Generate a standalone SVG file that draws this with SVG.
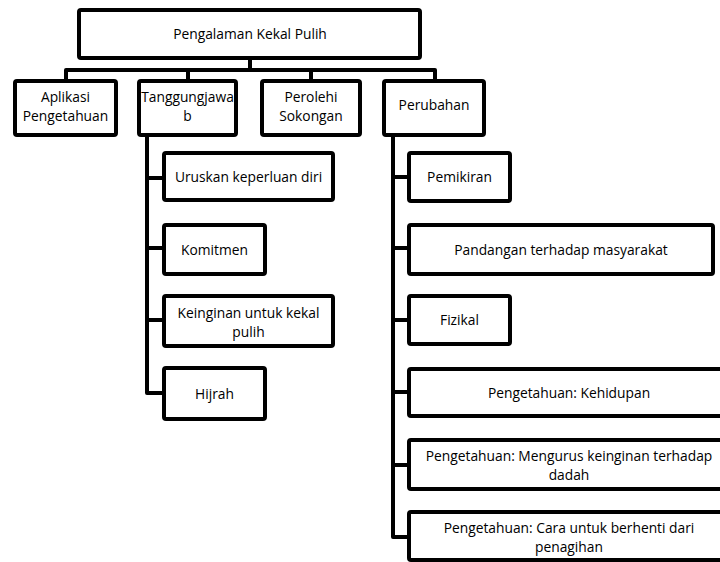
<svg xmlns="http://www.w3.org/2000/svg" width="720" height="562" viewBox="0 0 720 562">
<style>
.box{fill:#fff;stroke:#000;stroke-width:4;}
.ln{fill:none;stroke:#000;stroke-width:4;stroke-linejoin:round;}
text{font-family:"Open Sans","Noto Sans",sans-serif;font-size:13.8px;fill:#000;text-anchor:middle;}
</style>
<rect width="720" height="562" fill="#fff"/>
<g id="connectors">
<path class="ln" d="M250,60 V70 M66,79 V70 H435 V79 M188,70 V79 M311,70 V79"/>
<path class="ln" d="M147,137 V393 H162 M147,178 H162 M147,248 H162 M147,320 H162"/>
<path class="ln" d="M393,137 V537 H407 M393,177 H407 M393,248 H407 M393,320 H407 M393,392 H407 M393,465 H407"/>
</g>
<g id="n-root"><rect class="box" x="79" y="10" width="341" height="48" rx="2"/><text x="250" y="39">Pengalaman Kekal Pulih</text></g>
<g id="n-aplikasi"><rect class="box" x="15" y="81" width="101" height="54" rx="2"/><text x="65.5" y="102">Aplikasi</text><text x="65.5" y="121">Pengetahuan</text></g>
<g id="n-tanggungjawab"><rect class="box" x="139" y="81" width="97" height="54" rx="2"/><text x="187.5" y="102">Tanggungjawa</text><text x="187.5" y="121">b</text></g>
<g id="n-perolehi"><rect class="box" x="262" y="81" width="98" height="54" rx="2"/><text x="311" y="102">Perolehi</text><text x="311" y="121">Sokongan</text></g>
<g id="n-perubahan"><rect class="box" x="384" y="81" width="100" height="54" rx="2"/><text x="434" y="110">Perubahan</text></g>
<g id="n-uruskan"><rect class="box" x="164" y="153" width="169" height="47" rx="2"/><text x="248.5" y="181.5">Uruskan keperluan diri</text></g>
<g id="n-komitmen"><rect class="box" x="164" y="225" width="101" height="49" rx="2"/><text x="214.5" y="254.5">Komitmen</text></g>
<g id="n-keinginan"><rect class="box" x="164" y="296" width="169" height="50" rx="2"/><text x="248.5" y="318">Keinginan untuk kekal</text><text x="248.5" y="337">pulih</text></g>
<g id="n-hijrah"><rect class="box" x="164" y="368" width="101" height="51" rx="2"/><text x="214.5" y="398.5">Hijrah</text></g>
<g id="n-pemikiran"><rect class="box" x="409" y="153" width="101" height="48" rx="2"/><text x="459.5" y="182">Pemikiran</text></g>
<g id="n-pandangan"><rect class="box" x="409" y="225" width="304" height="49" rx="2"/><text x="561" y="254.5">Pandangan terhadap masyarakat</text></g>
<g id="n-fizikal"><rect class="box" x="409" y="296" width="101" height="48" rx="2"/><text x="459.5" y="325">Fizikal</text></g>
<g id="n-kehidupan"><rect class="box" x="409" y="369" width="320" height="47" rx="2"/><text x="569" y="397.5">Pengetahuan: Kehidupan</text></g>
<g id="n-mengurus"><rect class="box" x="409" y="440" width="320" height="49" rx="2"/><text x="569" y="461">Pengetahuan: Mengurus keinginan terhadap</text><text x="569" y="480">dadah</text></g>
<g id="n-cara"><rect class="box" x="409" y="512" width="320" height="48" rx="2"/><text x="569" y="533">Pengetahuan: Cara untuk berhenti dari</text><text x="569" y="552">penagihan</text></g>
</svg>
